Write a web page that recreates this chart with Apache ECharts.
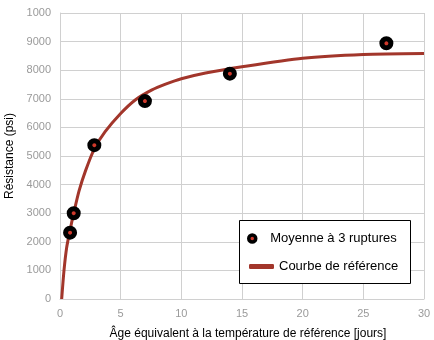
<!DOCTYPE html>
<html><head><meta charset="utf-8">
<script src="https://cdn.jsdelivr.net/npm/echarts@6/dist/echarts.min.js"></script>
<style>html,body{margin:0;padding:0;background:#fff}#c{width:434px;height:340px}</style>
</head><body><div id="c"></div>
<script>
// Mean of 3 breaks (age days, strength psi)
const pointAges = [0.83, 1.13, 2.83, 7.0, 14.0, 26.9];
const pointStrengths = [2320, 3000, 5380, 6920, 7880, 8940];
// Reference curve
const curveAges = [0.14, 0.33, 0.55, 0.85, 1.13, 1.57, 2.1, 2.83, 3.72, 4.96, 6.2, 7.58, 8.7, 10, 12, 15, 20, 25, 30];
const curveStrengths = [0, 1000, 1800, 2450, 3000, 3780, 4480, 5250, 5850, 6470, 6960, 7310, 7510, 7700, 7900, 8120, 8420, 8550, 8585];
const yTickLabels = ['0','1000','2000','3000','4000','5000','6000','7000','8000','9000','1000'];
const xTickLabels = ['0','5','10','15','20','25','30'];
const seriesNames = ['Moyenne à 3 ruptures', 'Courbe de référence'];

const font = 'Liberation Sans, Arial, Helvetica, sans-serif';
const chart = echarts.init(document.getElementById('c'), null, {renderer: 'canvas'});
chart.setOption({
  animation: false,
  textStyle: {fontFamily: font},
  grid: {left: 60, right: 10, top: 13, bottom: 41, outerBoundsMode: 'none', containLabel: false},
  xAxis: {
    type: 'value', min: 0, max: 30, interval: 5,
    name: 'Âge équivalent à la température de référence [jours]',
    nameLocation: 'middle', nameGap: 29,
    nameTextStyle: {color: '#000', fontSize: 12, fontFamily: font, padding: [0, 0, 0, 12]},
    axisLine: {show: true, lineStyle: {color: '#d0d0d0', width: 1}},
    axisTick: {show: false},
    axisLabel: {color: '#9a9a9a', fontSize: 11, margin: 9, fontFamily: font,
      formatter: (v) => xTickLabels[Math.round(v / 5)] ?? String(v)},
    splitLine: {show: true, lineStyle: {color: '#d0d0d0', width: 1}}
  },
  yAxis: {
    type: 'value', min: 0, max: 10000, interval: 1000,
    name: 'Résistance (psi)', nameLocation: 'middle', nameGap: 43,
    nameTextStyle: {color: '#000', fontSize: 12, fontFamily: font},
    axisLine: {show: true, lineStyle: {color: '#d0d0d0', width: 1}},
    axisTick: {show: false},
    axisLabel: {color: '#9a9a9a', fontSize: 11, margin: 9, fontFamily: font,
      formatter: (v) => yTickLabels[Math.round(v / 1000)] ?? String(v)},
    splitLine: {show: true, lineStyle: {color: '#d0d0d0', width: 1}}
  },
  graphic: [{
    type: 'rect', z: 3, silent: true,
    shape: {x: 239.5, y: 220.5, width: 171, height: 63},
    style: {fill: '#fff', stroke: '#000', lineWidth: 1}
  }],
  legend: [{
    z: 5, left: 247, top: 232, orient: 'vertical', padding: 0,
    itemWidth: 26, itemHeight: 7,
    textStyle: {color: '#000', fontSize: 13, fontFamily: font},
    data: [{name: seriesNames[0], icon: 'circle',
      itemStyle: {color: '#d0392b', borderColor: '#000', borderWidth: 3.5}}]
  }, {
    z: 5, left: 249, top: 260, orient: 'vertical', padding: 0,
    itemWidth: 25, itemHeight: 5,
    textStyle: {color: '#000', fontSize: 13, fontFamily: font},
    data: [{name: seriesNames[1], icon: 'roundRect',
      itemStyle: {color: '#a2362b', borderWidth: 0}}]
  }],
  series: [{
    name: seriesNames[1], type: 'line', z: 2,
    data: curveAges.map((a, i) => [a, curveStrengths[i]]),
    smooth: 0.25, showSymbol: false, symbol: 'none',
    lineStyle: {color: '#a2362b', width: 3},
    itemStyle: {color: '#a2362b'}
  }, {
    name: seriesNames[0], type: 'scatter', z: 3,
    data: pointAges.map((a, i) => [a, pointStrengths[i]]),
    symbol: 'circle', symbolSize: 9,
    itemStyle: {color: '#d0392b', borderColor: '#000', borderWidth: 5, opacity: 1}
  }]
});
</script></body></html>
